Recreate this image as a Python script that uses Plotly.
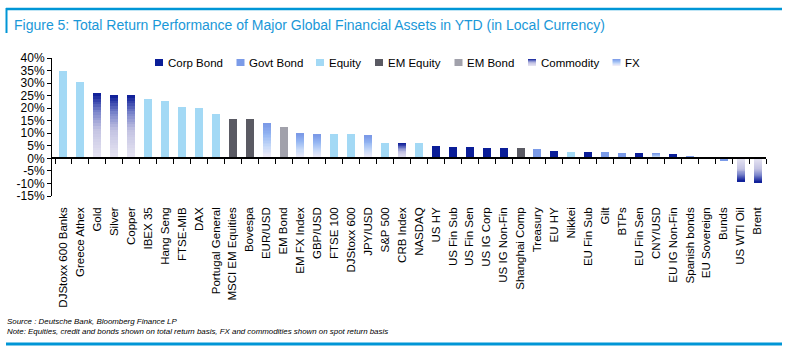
import plotly.graph_objects as go

categories = ["DJStoxx 600 Banks", "Greece Athex", "Gold", "Silver", "Copper", "IBEX 35",
              "Hang Seng", "FTSE-MIB", "DAX", "Portugal General", "MSCI EM Equities", "Bovespa",
              "EUR/USD", "EM Bond", "EM FX Index", "GBP/USD", "FTSE 100", "DJStoxx 600",
              "JPY/USD", "S&P 500", "CRB Index", "NASDAQ", "US HY", "US Fin Sub", "US Fin Sen",
              "US IG Corp", "US IG Non-Fin", "Shanghai Comp", "Treasury", "EU HY", "Nikkei",
              "EU Fin Sub", "Gilt", "BTPs", "EU Fin Sen", "CNY/USD", "EU IG Non-Fin",
              "Spanish bonds", "EU Sovereign", "Bunds", "US WTI Oil", "Brent"]
values = [34.7, 30.3, 25.9, 25.1, 25.1, 23.5,
          22.7, 20.4, 20.0, 17.6, 15.6, 15.6,
          14.0, 12.4, 10.0, 9.6, 9.6, 9.6,
          9.2, 6.0, 6.0, 6.0, 4.8, 4.4, 4.4,
          4.0, 4.0, 4.0, 3.6, 2.9, 2.5,
          2.5, 2.5, 2.1, 2.1, 2.1, 1.7,
          0.9, 0.5, -0.9, -9.3, -9.7]
asset_class = ["Equity", "Equity", "Commodity", "Commodity", "Commodity", "Equity",
               "Equity", "Equity", "Equity", "Equity", "EM Equity", "EM Equity",
               "FX", "EM Bond", "FX", "FX", "Equity", "Equity",
               "FX", "Equity", "Commodity", "Equity", "Corp Bond", "Corp Bond", "Corp Bond",
               "Corp Bond", "Corp Bond", "EM Equity", "Govt Bond", "Corp Bond", "Equity",
               "Corp Bond", "Govt Bond", "Govt Bond", "Corp Bond", "FX", "Corp Bond",
               "Govt Bond", "Govt Bond", "Govt Bond", "Commodity", "Commodity"]
legend_order = ["Corp Bond", "Govt Bond", "Equity", "EM Equity", "EM Bond", "Commodity", "FX"]
y_ticks = [-15, -10, -5, 0, 5, 10, 15, 20, 25, 30, 35, 40]

# ---------------- styling ----------------
W, H = 790, 352
ML, MR, MT, MB = 52, 24, 58, 156
PW, PH = W - ML - MR, H - MT - MB
FONT = "Liberation Sans"
BLUE_LINE = "#0096D6"

solid_colors = {"Corp Bond": "#0B1E98", "Govt Bond": "#7B9BE8", "Equity": "#A3D9F5",
                "EM Equity": "#5A5A63", "EM Bond": "#A1A1AB"}
grad_stops = {
    "Commodity": [(0.0, "#E8E6F3"), (0.45, "#C3C3E2"), (0.72, "#7A84CB"), (1.0, "#0A1A96")],
    "FX": [(0.0, "#F7EFF8"), (0.35, "#C8DAF8"), (0.7, "#93B5F2"), (1.0, "#7A98E6")],
}
NSEG = 24


def hex2rgb(h):
    h = h.lstrip("#")
    return tuple(int(h[i:i + 2], 16) for i in (0, 2, 4))


def grad_color(stops, t):
    for (t0, c0), (t1, c1) in zip(stops[:-1], stops[1:]):
        if t <= t1:
            f = (t - t0) / (t1 - t0) if t1 > t0 else 0
            a, b = hex2rgb(c0), hex2rgb(c1)
            return "rgb(%d,%d,%d)" % tuple(round(a[i] + (b[i] - a[i]) * f) for i in range(3))
    return stops[-1][1]


def px(x):
    return (x - ML) / PW


def py(y):
    return (H - MB - y) / PH


fig = go.Figure()
BW = 0.47

for cls in legend_order:
    xs = [c for c, k in zip(categories, asset_class) if k == cls]
    vs = [v for v, k in zip(values, asset_class) if k == cls]
    if cls in solid_colors:
        fig.add_trace(go.Bar(x=xs, y=vs, width=BW, marker=dict(color=solid_colors[cls], line=dict(width=0)),
                             name=cls, showlegend=False))
    else:
        for s in range(NSEG):
            t = (s + 0.5) / NSEG
            fig.add_trace(go.Bar(x=xs, y=[v / NSEG for v in vs], base=[v * s / NSEG for v in vs],
                                 width=BW, marker=dict(color=grad_color(grad_stops[cls], t), line=dict(width=0)),
                                 name=cls, showlegend=False, hoverinfo="skip"))

# dummy trace for zero-line axis with boundary ticks
fig.add_trace(go.Scatter(x=categories, y=[0] * len(categories), xaxis="x2", mode="markers",
                         marker=dict(opacity=0), showlegend=False, hoverinfo="skip"))

xr = [-0.5 - 3 / 16.93, len(categories) - 0.5]
fig.update_layout(
    width=W, height=H, margin=dict(l=ML, r=MR, t=MT, b=MB),
    paper_bgcolor="white", plot_bgcolor="white",
    barmode="overlay", bargap=0,
    font=dict(family=FONT, color="#000000"),
    showlegend=False,
    xaxis=dict(type="category", categoryorder="array", categoryarray=categories, range=xr,
               showline=False, ticks="", showgrid=False, zeroline=False, tickangle=-90,
               tickfont=dict(size=11.5, family=FONT, color="#000"), ticklabelstandoff=8),
    xaxis2=dict(type="category", categoryorder="array", categoryarray=categories, range=xr,
                overlaying="x", anchor="free", position=15 / 55, showline=True, linecolor="#000",
                linewidth=1.5, ticks="outside", tickson="boundaries", ticklen=5, tickwidth=1.2,
                tickcolor="#000", showticklabels=False, showgrid=False, zeroline=False),
    yaxis=dict(range=[-15, 40], tickvals=y_ticks, ticktext=["%d%%" % v for v in y_ticks],
               showline=True, linecolor="#000", linewidth=1, ticks="outside", ticklen=4,
               tickcolor="#000", showgrid=False, zeroline=False,
               tickfont=dict(size=12, family=FONT, color="#000")),
)

shapes = []
ann = []
# frame lines
shapes.append(dict(type="line", xref="paper", yref="paper", x0=px(6), x1=px(782), y0=py(9), y1=py(9),
                   line=dict(color=BLUE_LINE, width=2.5)))
shapes.append(dict(type="line", xref="paper", yref="paper", x0=px(6.5), x1=px(6.5), y0=py(8), y1=py(33),
                   line=dict(color=BLUE_LINE, width=2)))
shapes.append(dict(type="line", xref="paper", yref="paper", x0=px(6), x1=px(782), y0=py(344), y1=py(344),
                   line=dict(color=BLUE_LINE, width=3)))

ann.append(dict(text="Figure 5: Total Return Performance of Major Global Financial Assets in YTD (in Local Currency)",
                xref="paper", yref="paper", x=px(12), y=py(24.5), xanchor="left", yanchor="middle",
                showarrow=False, font=dict(size=14, family=FONT, color="#1A98D8")))

# legend
leg_x = {"Corp Bond": 155, "Govt Bond": 236.5, "Equity": 316, "EM Equity": 375,
         "EM Bond": 454.5, "Commodity": 528, "FX": 612.5}
ly = 62.5
for cls in legend_order:
    x0 = leg_x[cls]
    if cls in solid_colors:
        shapes.append(dict(type="rect", xref="paper", yref="paper", x0=px(x0), x1=px(x0 + 8),
                           y0=py(ly - 3.5), y1=py(ly + 3.5), fillcolor=solid_colors[cls], line=dict(width=0)))
    else:
        n = 7
        for s in range(n):
            t = 1 - (s + 0.5) / n
            shapes.append(dict(type="rect", xref="paper", yref="paper", x0=px(x0), x1=px(x0 + 8),
                               y0=py(ly - 3.5 + s), y1=py(ly - 2.5 + s),
                               fillcolor=grad_color(grad_stops[cls], t), line=dict(width=0)))
    ann.append(dict(text=cls, xref="paper", yref="paper", x=px(x0 + 10.5), y=py(ly), xanchor="left",
                    yanchor="middle", showarrow=False, font=dict(size=11.5, family=FONT, color="#000")))

# footnotes
ann.append(dict(text="<i>Source : Deutsche Bank, Bloomberg Finance LP</i>", xref="paper", yref="paper",
                x=px(5), y=py(321.5), xanchor="left", yanchor="middle", showarrow=False,
                font=dict(size=7.9, family=FONT, color="#000")))
ann.append(dict(text="<i>Note: Equities, credit and bonds shown on total return basis, FX and commodities shown on spot return basis</i>",
                xref="paper", yref="paper", x=px(5), y=py(331.5), xanchor="left", yanchor="middle",
                showarrow=False, font=dict(size=7.9, family=FONT, color="#000")))

fig.update_layout(shapes=shapes, annotations=ann)
fig.write_html("out.html")
